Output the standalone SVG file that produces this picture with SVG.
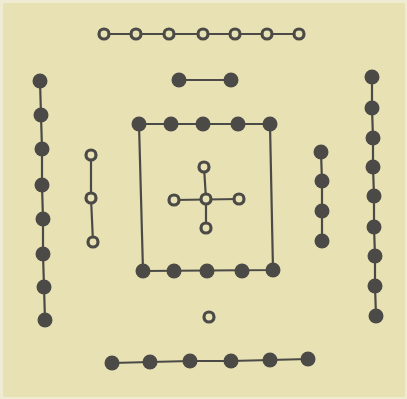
<svg xmlns="http://www.w3.org/2000/svg" width="407" height="399" viewBox="0 0 407 399">
<style>
.ln{stroke:#4b4a46;stroke-width:2.2;fill:none}
.d{fill:#4b4a46}
.o{fill:#e7e1b4;stroke:#4b4a46;stroke-width:3.2}
</style>
<rect width="407" height="399" fill="#f0ecd4"/>
<rect x="3" y="3" width="402" height="394" fill="#e7e1b4"/>
<g id="connectors">
<polyline class="ln" points="104,34 299,34"/>
<polyline class="ln" points="179,80 231,80"/>
<polyline class="ln" points="40,81 41,115 42,149 42,185 43,219 43,254 44,287 45,320"/>
<polyline class="ln" points="91,155 91,198 93,242"/>
<polygon class="ln" points="139,124 270,124 273,270 143,271"/>
<polyline class="ln" points="174,200 239,199"/>
<polyline class="ln" points="204,167 206,199 206,228"/>
<polyline class="ln" points="321,152 322,181 322,211 322,241"/>
<polyline class="ln" points="372,77 372,108 373,138 373,167 374,196 374,227 375,256 375,286 376,316"/>
<polyline class="ln" points="112,363 150,362 190,361 231,361 270,360 308,359"/>
</g>
<g id="top-chain">
<circle class="o" cx="104" cy="34" r="5"/><circle class="o" cx="136" cy="34" r="5"/><circle class="o" cx="169" cy="34" r="5"/><circle class="o" cx="203" cy="34" r="5"/><circle class="o" cx="235" cy="34" r="5"/><circle class="o" cx="267" cy="34" r="5"/><circle class="o" cx="299" cy="34" r="5"/>
</g>
<g id="short-pair">
<circle class="d" cx="179" cy="80" r="7.5"/><circle class="d" cx="231" cy="80" r="7.5"/>
</g>
<g id="left-column">
<circle class="d" cx="40" cy="81" r="7.5"/><circle class="d" cx="41" cy="115" r="7.5"/><circle class="d" cx="42" cy="149" r="7.5"/><circle class="d" cx="42" cy="185" r="7.5"/><circle class="d" cx="43" cy="219" r="7.5"/><circle class="d" cx="43" cy="254" r="7.5"/><circle class="d" cx="44" cy="287" r="7.5"/><circle class="d" cx="45" cy="320" r="7.5"/>
</g>
<g id="left-open-column">
<circle class="o" cx="91" cy="155" r="5"/><circle class="o" cx="91" cy="198" r="5"/><circle class="o" cx="93" cy="242" r="5"/>
</g>
<g id="square">
<circle class="d" cx="139" cy="124" r="7.5"/><circle class="d" cx="171" cy="124" r="7.5"/><circle class="d" cx="203" cy="124" r="7.5"/><circle class="d" cx="238" cy="124" r="7.5"/><circle class="d" cx="270" cy="124" r="7.5"/>
<circle class="d" cx="143" cy="271" r="7.5"/><circle class="d" cx="174" cy="271" r="7.5"/><circle class="d" cx="207" cy="271" r="7.5"/><circle class="d" cx="242" cy="271" r="7.5"/><circle class="d" cx="273" cy="270" r="7.5"/>
</g>
<g id="cross">
<circle class="o" cx="204" cy="167" r="5"/><circle class="o" cx="174" cy="200" r="5"/><circle class="o" cx="206" cy="199" r="5"/><circle class="o" cx="239" cy="199" r="5"/><circle class="o" cx="206" cy="228" r="5"/>
</g>
<g id="right-short-column">
<circle class="d" cx="321" cy="152" r="7.5"/><circle class="d" cx="322" cy="181" r="7.5"/><circle class="d" cx="322" cy="211" r="7.5"/><circle class="d" cx="322" cy="241" r="7.5"/>
</g>
<g id="right-column">
<circle class="d" cx="372" cy="77" r="7.5"/><circle class="d" cx="372" cy="108" r="7.5"/><circle class="d" cx="373" cy="138" r="7.5"/><circle class="d" cx="373" cy="167" r="7.5"/><circle class="d" cx="374" cy="196" r="7.5"/><circle class="d" cx="374" cy="227" r="7.5"/><circle class="d" cx="375" cy="256" r="7.5"/><circle class="d" cx="375" cy="286" r="7.5"/><circle class="d" cx="376" cy="316" r="7.5"/>
</g>
<g id="lone-open">
<circle class="o" cx="209" cy="317" r="5"/>
</g>
<g id="bottom-chain">
<circle class="d" cx="112" cy="363" r="7.5"/><circle class="d" cx="150" cy="362" r="7.5"/><circle class="d" cx="190" cy="361" r="7.5"/><circle class="d" cx="231" cy="361" r="7.5"/><circle class="d" cx="270" cy="360" r="7.5"/><circle class="d" cx="308" cy="359" r="7.5"/>
</g>
</svg>
